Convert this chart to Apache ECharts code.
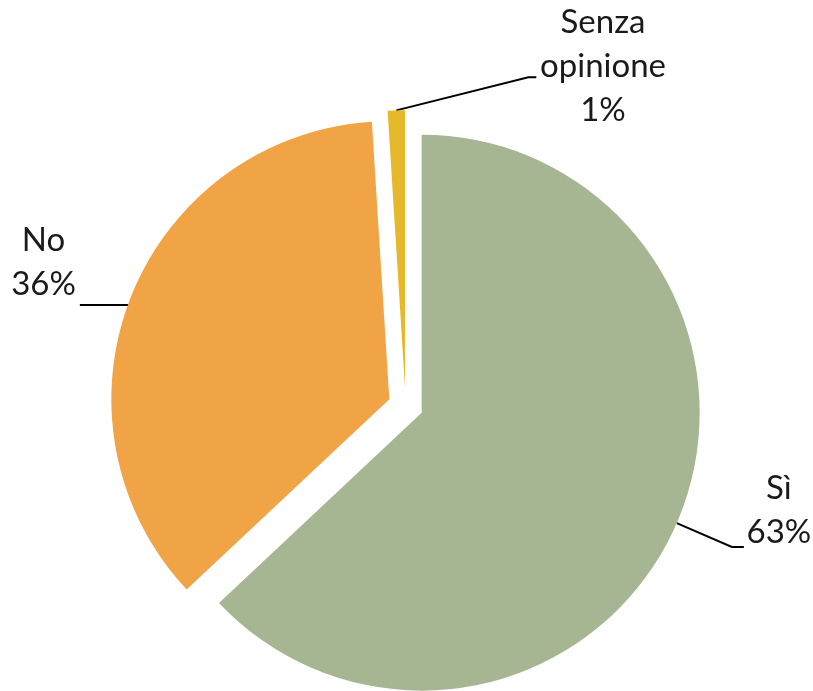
<!DOCTYPE html>
<html>
<head>
<meta charset="utf-8">
<script src="https://cdn.jsdelivr.net/npm/echarts@6/dist/echarts.min.js"></script>
<style>
  html, body { margin: 0; padding: 0; background: #ffffff; }
  #chart { width: 813px; height: 691px; }
</style>
</head>
<body>
<div id="chart"></div>
<script>
// ---- data ----
const categories = ['Sì', 'No', 'Senza opinione'];
const labelNames = ['Sì', 'No', 'Senza\nopinione'];
const values = [63, 36, 1];
const colors = ['#A6B592', '#F0A446', '#E6B92A'];

const chart = echarts.init(document.getElementById('chart'), null, { renderer: 'canvas' });

// styling for each label: leader-line lengths and text padding [top, right, bottom, left]
const lineLens = [[60, 12], [2, 48], [10, 10]];
const labelPads = [[0, 0, -7, 60], [0, 65, -10, 0], [0, 0, -32, 444]];

const seriesData = categories.map((c, i) => ({
  name: c,
  value: values[i],
  selected: true,
  itemStyle: { color: colors[i] },
  label: { padding: labelPads[i] },
  labelLine: { length: lineLens[i][0], length2: lineLens[i][1] }
}));

chart.setOption({
  backgroundColor: '#ffffff',
  animation: false,
  series: [{
    type: 'pie',
    center: [405.6, 405.7],
    radius: 278,
    startAngle: 90,
    clockwise: true,
    selectedMode: 'multiple',
    selectedOffset: 17.5,
    avoidLabelOverlap: false,
    emphasis: { disabled: true },
    itemStyle: { borderWidth: 0 },
    label: {
      show: true,
      position: 'outside',
      fontFamily: 'Lato',
      fontSize: 33,
      lineHeight: 44,
      color: '#1a1a1a',
      formatter: function (p) {
        return labelNames[p.dataIndex] + '\n' + Math.round(p.percent) + '%';
      }
    },
    labelLine: {
      show: true,
      lineStyle: { color: '#000000', width: 2 }
    },
    labelLayout: function (p) {
      const pts = p.labelLinePoints;
      const out = { align: 'center', verticalAlign: 'bottom' };
      if (!pts) return out;
      const s = pts[0];
      if (p.dataIndex === 1) {
        out.labelLinePoints = [[s[0] - 2, s[1] + 8], [s[0] - 51, s[1] + 8]];
      } else if (p.dataIndex === 2) {
        out.labelLinePoints = [s, [s[0] + 132, s[1] - 33], [s[0] + 140, s[1] - 33]];
      }
      return out;
    },
    data: seriesData
  }]
});
</script>
</body>
</html>
